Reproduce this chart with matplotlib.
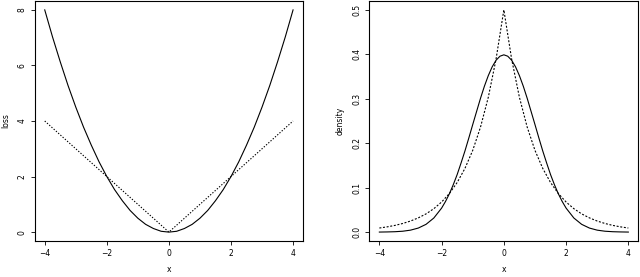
import matplotlib
matplotlib.use("Agg")
import matplotlib.pyplot as plt

# x grid (step 0.25)
x = [-4.0, -3.75, -3.5, -3.25, -3.0, -2.75, -2.5, -2.25, -2.0, -1.75, -1.5,
     -1.25, -1.0, -0.75, -0.5, -0.25, 0.0, 0.25, 0.5, 0.75, 1.0, 1.25, 1.5,
     1.75, 2.0, 2.25, 2.5, 2.75, 3.0, 3.25, 3.5, 3.75, 4.0]

# left panel: squared loss (solid) and absolute loss (dotted)
loss_sq = [8.0, 7.03, 6.13, 5.28, 4.5, 3.78, 3.13, 2.53, 2.0, 1.53, 1.13,
           0.78, 0.5, 0.28, 0.13, 0.03, 0.0, 0.03, 0.13, 0.28, 0.5, 0.78, 1.13,
           1.53, 2.0, 2.53, 3.13, 3.78, 4.5, 5.28, 6.13, 7.03, 8.0]
x_abs = [-4.0, 0.0, 4.0]
loss_abs = [4.0, 0.0, 4.0]

# right panel: gaussian density (solid, finer grid near the top)
x_norm = [-4.0, -3.75, -3.5, -3.25, -3.0, -2.75, -2.5, -2.25, -2.0,
          -1.875, -1.75, -1.625, -1.5, -1.375, -1.25, -1.125, -1.0,
          -0.875, -0.75, -0.625, -0.5, -0.375, -0.25, -0.125, 0.0,
          0.125, 0.25, 0.375, 0.5, 0.625, 0.75, 0.875, 1.0,
          1.125, 1.25, 1.375, 1.5, 1.625, 1.75, 1.875, 2.0,
          2.25, 2.5, 2.75, 3.0, 3.25, 3.5, 3.75, 4.0]
dens_norm = [0.0001, 0.0004, 0.0009, 0.002, 0.0044, 0.0091, 0.0175, 0.0317, 0.054,
             0.0689, 0.0863, 0.1067, 0.1295, 0.1555, 0.1826, 0.2119, 0.242,
             0.2716, 0.3011, 0.3282, 0.3521, 0.3719, 0.3867, 0.3958, 0.3989,
             0.3958, 0.3867, 0.3719, 0.3521, 0.3282, 0.3011, 0.2716, 0.242,
             0.2119, 0.1826, 0.1555, 0.1295, 0.1067, 0.0863, 0.0689, 0.054,
             0.0317, 0.0175, 0.0091, 0.0044, 0.002, 0.0009, 0.0004, 0.0001]
# laplace density (dashed)
dens_lap = [0.0092, 0.0118, 0.0151, 0.0194, 0.0249, 0.032, 0.041, 0.0527,
            0.0677, 0.0869, 0.1116, 0.1433, 0.1839, 0.2362, 0.3033, 0.3894,
            0.5, 0.3894, 0.3033, 0.2362, 0.1839, 0.1433, 0.1116, 0.0869,
            0.0677, 0.0527, 0.041, 0.032, 0.0249, 0.0194, 0.0151, 0.0118, 0.0092]

xticks = [-4, -2, 0, 2, 4]
yticks_left = [0, 2, 4, 6, 8]
yticks_right = [0.0, 0.1, 0.2, 0.3, 0.4, 0.5]

W, H = 640, 277
fig = plt.figure(figsize=(W / 100, H / 100), dpi=100)

ax1 = fig.add_axes([34.8 / W, 36 / H, (303 - 34.8) / W, (276 - 36) / H])
ax2 = fig.add_axes([369.4 / W, 36 / H, (638.3 - 369.4) / W, (276 - 36) / H])

fs = 5.5
lw = 0.8

ax1.plot(x, loss_sq, color="black", lw=lw)
ax1.plot(x_abs, loss_abs, color="black", lw=lw, dashes=(1.2, 1.5))
ax1.set_xlim(-4.32, 4.32)
ax1.set_ylim(-0.32, 8.32)
ax1.set_yticks(yticks_left)
ax1.set_yticklabels([str(v) for v in yticks_left], rotation=90, va="center")
ax1.set_ylabel("loss", fontsize=fs, labelpad=5)

ax2.plot(x_norm, dens_norm, color="black", lw=lw)
ax2.plot(x, dens_lap, color="black", lw=lw, dashes=(1.8, 1.5))
ax2.set_xlim(-4.32, 4.32)
ax2.set_ylim(-0.02, 0.52)
ax2.set_yticks(yticks_right)
ax2.set_yticklabels([f"{v:.1f}" for v in yticks_right], rotation=90, va="center")
ax2.set_ylabel("density", fontsize=fs, labelpad=5)

for ax in (ax1, ax2):
    ax.set_xticks(xticks)
    ax.set_xticklabels([str(v).replace("-", "\u2212") for v in xticks])
    ax.set_xlabel("x", fontsize=fs, labelpad=5)
    ax.tick_params(labelsize=fs, length=3, width=0.6, pad=3)
    for s in ax.spines.values():
        s.set_linewidth(0.8)

fig.savefig("out.png", dpi=100)
